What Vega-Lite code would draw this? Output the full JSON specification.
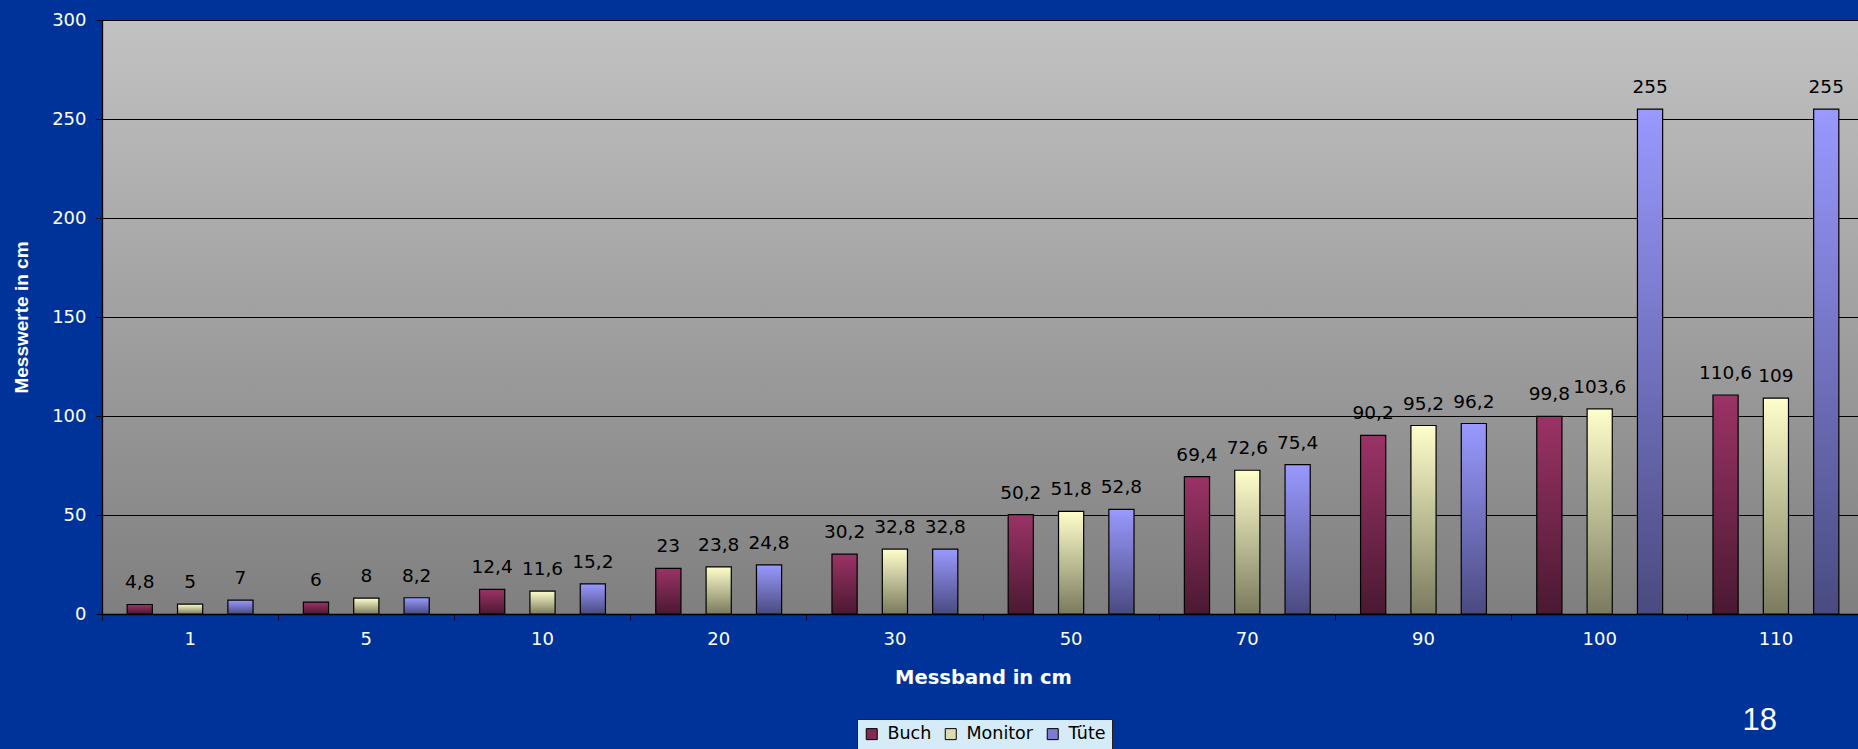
{
  "$schema": "https://vega.github.io/schema/vega-lite/v6.json",
  "width": 1756,
  "height": 594,
  "autosize": {"type": "none"},
  "padding": {"left": 102, "top": 20, "right": 0, "bottom": 135},
  "background": "#003399",
  "title": {
    "text": "18",
    "orient": "bottom",
    "anchor": "end",
    "frame": "group",
    "font": "Liberation Sans",
    "fontSize": 31,
    "fontWeight": "normal",
    "color": "white",
    "dx": -81,
    "dy": -52,
    "offset": 8
  },
  "data": {
    "values": [
      {"Messband": "1", "Serie": "Buch", "Wert": 4.8},
      {"Messband": "1", "Serie": "Monitor", "Wert": 5},
      {"Messband": "1", "Serie": "Tüte", "Wert": 7},
      {"Messband": "5", "Serie": "Buch", "Wert": 6},
      {"Messband": "5", "Serie": "Monitor", "Wert": 8},
      {"Messband": "5", "Serie": "Tüte", "Wert": 8.2},
      {"Messband": "10", "Serie": "Buch", "Wert": 12.4},
      {"Messband": "10", "Serie": "Monitor", "Wert": 11.6},
      {"Messband": "10", "Serie": "Tüte", "Wert": 15.2},
      {"Messband": "20", "Serie": "Buch", "Wert": 23},
      {"Messband": "20", "Serie": "Monitor", "Wert": 23.8},
      {"Messband": "20", "Serie": "Tüte", "Wert": 24.8},
      {"Messband": "30", "Serie": "Buch", "Wert": 30.2},
      {"Messband": "30", "Serie": "Monitor", "Wert": 32.8},
      {"Messband": "30", "Serie": "Tüte", "Wert": 32.8},
      {"Messband": "50", "Serie": "Buch", "Wert": 50.2},
      {"Messband": "50", "Serie": "Monitor", "Wert": 51.8},
      {"Messband": "50", "Serie": "Tüte", "Wert": 52.8},
      {"Messband": "70", "Serie": "Buch", "Wert": 69.4},
      {"Messband": "70", "Serie": "Monitor", "Wert": 72.6},
      {"Messband": "70", "Serie": "Tüte", "Wert": 75.4},
      {"Messband": "90", "Serie": "Buch", "Wert": 90.2},
      {"Messband": "90", "Serie": "Monitor", "Wert": 95.2},
      {"Messband": "90", "Serie": "Tüte", "Wert": 96.2},
      {"Messband": "100", "Serie": "Buch", "Wert": 99.8},
      {"Messband": "100", "Serie": "Monitor", "Wert": 103.6},
      {"Messband": "100", "Serie": "Tüte", "Wert": 255},
      {"Messband": "110", "Serie": "Buch", "Wert": 110.6},
      {"Messband": "110", "Serie": "Monitor", "Wert": 109},
      {"Messband": "110", "Serie": "Tüte", "Wert": 255}
    ]
  },
  "encoding": {
    "x": {
      "field": "Messband",
      "type": "nominal",
      "sort": ["1", "5", "10", "20", "30", "50", "70", "90", "100", "110"],
      "scale": {"range": [0, 1762], "paddingInner": 0, "paddingOuter": 0},
      "axis": {
        "title": "Messband in cm",
        "titleFont": "DejaVu Sans",
        "titleFontWeight": "bold",
        "titleFontSize": 19.5,
        "titleColor": "white",
        "titlePadding": 20,
        "labelAngle": 0,
        "labelFont": "DejaVu Sans",
        "labelFontSize": 18,
        "labelColor": "white",
        "labelPadding": 10,
        "bandPosition": 0,
        "tickColor": "black",
        "tickSize": 6,
        "domainColor": "black",
        "domainWidth": 1.3,
        "grid": false
      }
    },
    "xOffset": {
      "field": "Serie",
      "type": "nominal",
      "sort": ["Buch", "Monitor", "Tüte"],
      "scale": {"paddingInner": 0.5, "paddingOuter": 0.5}
    },
    "y": {
      "field": "Wert",
      "type": "quantitative",
      "scale": {"domain": [0, 300], "nice": false},
      "axis": {
        "title": "Messwerte in cm",
        "titleFont": "Liberation Sans",
        "titleFontWeight": "bold",
        "titleFontSize": 19,
        "titleColor": "white",
        "titlePadding": 20,
        "values": [0, 50, 100, 150, 200, 250, 300],
        "labelFont": "DejaVu Sans",
        "labelFontSize": 18,
        "labelColor": "white",
        "labelPadding": 10,
        "tickColor": "black",
        "tickSize": 6,
        "domainColor": "black",
        "domainWidth": 1.3,
        "grid": true,
        "gridColor": "black",
        "gridWidth": 1
      }
    }
  },
  "layer": [
    {
      "mark": {"type": "bar", "opacity": 0},
      "encoding": {
        "color": {
          "field": "Serie",
          "type": "nominal",
          "scale": {
            "domain": ["Buch", "Monitor", "Tüte"],
            "range": ["#7E2A52", "#DCDCB0", "#7C7CD2"]
          },
          "legend": {
            "orient": "none",
            "legendX": 755,
            "legendY": 699,
            "direction": "horizontal",
            "title": null,
            "fillColor": "#D5EBF8",
            "strokeColor": "#222222",
            "padding": 6,
            "symbolType": "square",
            "symbolSize": 121,
            "symbolOpacity": 1,
            "symbolStrokeColor": "black",
            "symbolStrokeWidth": 1,
            "labelFont": "DejaVu Sans",
            "labelFontSize": 17.5,
            "labelColor": "black",
            "columnPadding": 10,
            "labelOffset": 7
          }
        }
      }
    },
    {
      "mark": {"type": "bar", "stroke": "black", "strokeWidth": 1.2},
      "encoding": {
        "fill": {
          "condition": [
            {"test": "datum.Serie === 'Buch'", "value": {"gradient": "linear", "x1": 0, "y1": 0, "x2": 0, "y2": 1, "stops": [{"offset": 0, "color": "#9B3366"}, {"offset": 1, "color": "#4A1931"}]}},
            {"test": "datum.Serie === 'Monitor'", "value": {"gradient": "linear", "x1": 0, "y1": 0, "x2": 0, "y2": 1, "stops": [{"offset": 0, "color": "#FFFFCC"}, {"offset": 1, "color": "#7A7A5E"}]}}
          ],
          "value": {"gradient": "linear", "x1": 0, "y1": 0, "x2": 0, "y2": 1, "stops": [{"offset": 0, "color": "#9999FF"}, {"offset": 1, "color": "#4A4A80"}]}
        }
      }
    },
    {
      "mark": {
        "type": "text",
        "baseline": "alphabetic",
        "dy": -16,
        "font": "DejaVu Sans",
        "fontSize": 18.5,
        "color": "black"
      },
      "encoding": {
        "text": {"field": "Wert", "type": "quantitative", "format": "~g"}
      }
    }
  ],
  "config": {
    "locale": {
      "number": {"decimal": ",", "thousands": ".", "grouping": [3], "currency": ["", " €"]}
    },
    "view": {
      "stroke": null,
      "fill": {
        "gradient": "linear", "x1": 0, "y1": 0, "x2": 0, "y2": 1,
        "stops": [{"offset": 0, "color": "#C2C2C2"}, {"offset": 1, "color": "#7F7F7F"}]
      }
    }
  }
}
